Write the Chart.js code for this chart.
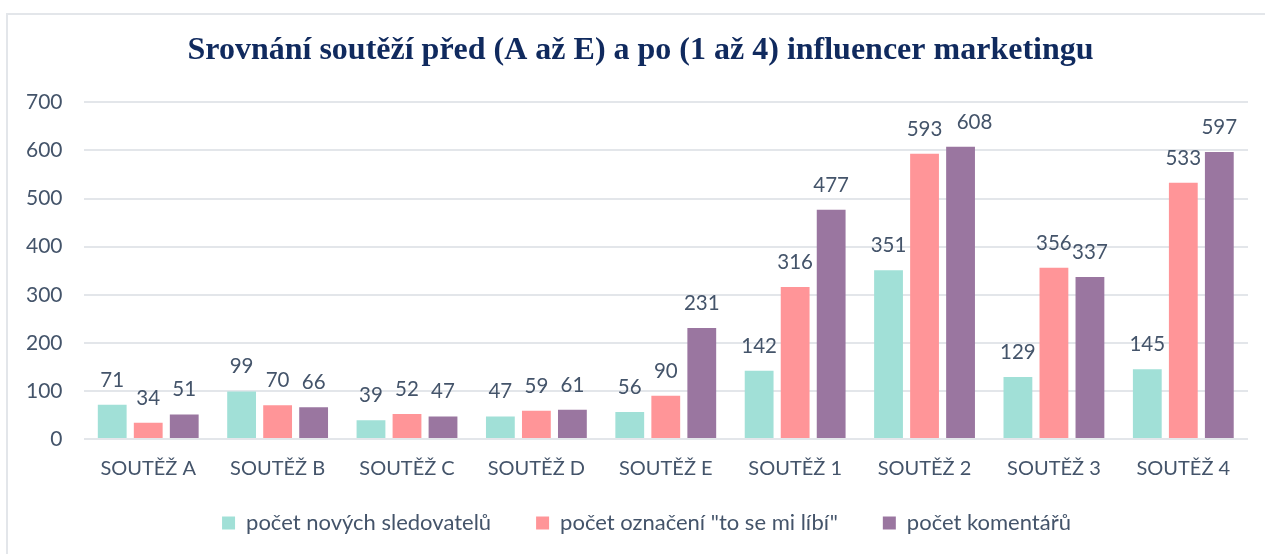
<!DOCTYPE html>
<html><head><meta charset="utf-8">
<script src="https://cdn.jsdelivr.net/npm/chart.js@4"></script>
<style>
html,body{margin:0;padding:0;background:#fff;}
#wrap{position:relative;width:1265px;height:554px;}
#frame{position:absolute;left:6px;top:13px;width:1270px;height:560px;border:2px solid #e3e6ea;box-sizing:border-box;pointer-events:none;}
</style></head>
<body><div id="wrap"><canvas id="c" width="1265" height="554"></canvas><div id="frame"></div></div>
<script>
const categories = ["SOUTĚŽ A","SOUTĚŽ B","SOUTĚŽ C","SOUTĚŽ D","SOUTĚŽ E","SOUTĚŽ 1","SOUTĚŽ 2","SOUTĚŽ 3","SOUTĚŽ 4"];
const seriesNames = ["počet nových sledovatelů","počet označení \"to se mi líbí\"","počet komentářů"];
const followers = [71,99,39,47,56,142,351,129,145];
const likes = [34,70,52,59,90,316,593,356,533];
const comments = [51,66,47,61,231,477,608,337,597];
const yTicks = [0,100,200,300,400,500,600,700];
const colors = ["#A1E0D7","#FF9598","#9A76A0"];
const titleText = "Srovnání soutěží před (A až E) a po (1 až 4) influencer marketingu";

const labelPlugin = {
  id:'valueLabels',
  afterDatasetsDraw(chart, args, opts){
    const ctx = chart.ctx;
    const nudge = opts.nudge || {};
    ctx.save();
    ctx.font = '20.5px Lato';
    ctx.fillStyle = '#44546A';
    ctx.textAlign = 'center';
    ctx.textBaseline = 'alphabetic';
    chart.data.datasets.forEach((ds,i)=>{
      const meta = chart.getDatasetMeta(i);
      meta.data.forEach((bar,j)=>{
        const dx = nudge[i+','+j] || 0;
        ctx.fillText(String(ds.data[j]), bar.x + dx, bar.y - 18);
      });
    });
    ctx.restore();
  }
};
// adjust legend/title placement (box reservation vs. drawing offset)
const placement = {
  id:'placement',
  beforeInit(chart){
    const lg = chart.legend;
    const fit = lg.fit;
    lg.fit = function(){ fit.call(this); this.height -= 22; };
    const ldraw = lg.draw;
    lg.draw = function(){
      const t=this.top, l=this.left, r=this.right;
      this.top -= 32; this.left += 20; this.right += 20;
      ldraw.call(this);
      this.top = t; this.left = l; this.right = r;
    };
    const tt = chart.titleBlock;
    if (tt){
      const tdraw = tt.draw;
      tt.draw = function(){ const c=this.ctx; c.save(); c.translate(14,0); tdraw.call(this); c.restore(); };
    }
  }
};

new Chart(document.getElementById('c'),{
  type:'bar',
  data:{
    labels:categories,
    datasets:[followers,likes,comments].map((d,i)=>({
      label:seriesNames[i], data:d, backgroundColor:colors[i],
      categoryPercentage:0.835, barPercentage:0.8
    }))
  },
  options:{
    responsive:false, animation:false,
    layout:{padding:{left:5,right:17,top:0,bottom:0}},
    plugins:{
      valueLabels:{nudge:{'2,6':14}},
      title:{display:true,text:titleText,color:'#102A5E',
        font:{family:'Liberation Serif',size:32,weight:'bold'},padding:{top:32,bottom:32}},
      legend:{position:'bottom',labels:{color:'#44546A',font:{family:'Lato',size:22},
        boxWidth:13,boxHeight:13,padding:45}},
      tooltip:{enabled:false}
    },
    scales:{
      x:{grid:{display:false,drawTicks:false},border:{display:false},
        ticks:{color:'#44546A',font:{family:'Lato',size:20},padding:18}},
      y:{min:0,max:700,afterBuildTicks(ax){ax.ticks=yTicks.map(v=>({value:v}));},
        grid:{color:'#E3E6EA',lineWidth:2,drawTicks:false},border:{display:false},
        ticks:{color:'#44546A',font:{family:'Lato',size:21},padding:21}}
    }
  },
  plugins:[labelPlugin, placement]
});
</script></body></html>
